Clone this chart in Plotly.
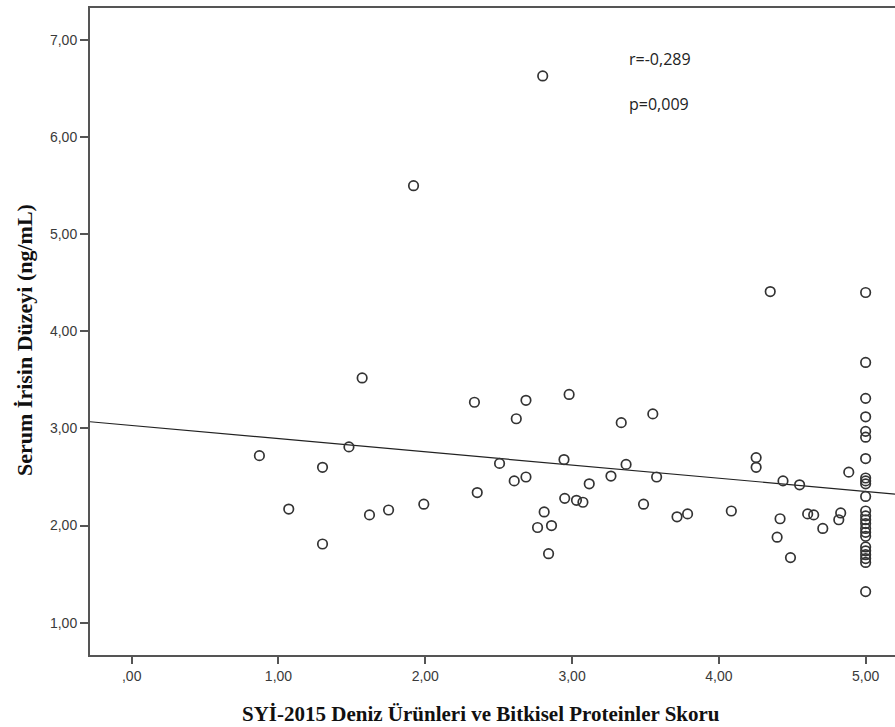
import numpy as np
import plotly.graph_objects as go

# Scatter data: SYİ-2015 score (x) vs serum irisin (y)
x_vals = [
    0.87, 1.07, 1.30, 1.30, 1.48, 1.57, 1.62, 1.75, 1.92, 1.99,
    2.335, 2.354, 2.506, 2.606, 2.62, 2.686, 2.686, 2.765, 2.80, 2.81,
    2.84, 2.86, 2.945, 2.95, 2.98, 3.03, 3.074, 3.117, 3.265, 3.335,
    3.368, 3.487, 3.55, 3.576, 3.715, 3.787, 4.085, 4.254, 4.254, 4.35,
    4.397, 4.417, 4.437, 4.488, 4.55, 4.605, 4.646, 4.708, 4.817, 4.83,
    4.885,
    5.0, 5.0, 5.0, 5.0, 5.0, 5.0, 5.0, 5.0, 5.0, 5.0, 5.0, 5.0,
    5.0, 5.0, 5.0, 5.0, 5.0, 5.0, 5.0, 5.0, 5.0, 5.0, 5.0, 5.0,
]
y_vals = [
    2.72, 2.17, 2.60, 1.81, 2.81, 3.52, 2.11, 2.16, 5.50, 2.22,
    3.27, 2.34, 2.64, 2.46, 3.10, 3.29, 2.50, 1.98, 6.63, 2.14,
    1.71, 2.00, 2.68, 2.28, 3.35, 2.26, 2.24, 2.43, 2.51, 3.06,
    2.63, 2.22, 3.15, 2.50, 2.09, 2.12, 2.15, 2.70, 2.60, 4.41,
    1.88, 2.07, 2.46, 1.67, 2.42, 2.12, 2.11, 1.97, 2.06, 2.13,
    2.55,
    4.40, 3.68, 3.31, 3.12, 2.97, 2.91, 2.69, 2.49, 2.46, 2.43, 2.30, 2.15,
    2.10, 2.06, 2.02, 1.97, 1.93, 1.89, 1.78, 1.74, 1.70, 1.66, 1.62, 1.32,
]

x_tick_vals = [0, 1, 2, 3, 4, 5]
x_tick_text = [",00", "1,00", "2,00", "3,00", "4,00", "5,00"]
y_tick_vals = [1, 2, 3, 4, 5, 6, 7]
y_tick_text = ["1,00", "2,00", "3,00", "4,00", "5,00", "6,00", "7,00"]

x_range = [-0.284, 5.2]
y_range = [0.667, 7.33]

stats_text = ["r=-0,289", "p=0,009"]

# Linear fit line
slope, intercept = np.polyfit(np.array(x_vals), np.array(y_vals), 1)
fit_x = np.array(x_range)
fit_y = intercept + slope * fit_x

fig = go.Figure()
fig.add_trace(go.Scatter(
    x=fit_x, y=fit_y, mode="lines",
    line=dict(color="#222222", width=1.2),
    hoverinfo="skip", showlegend=False,
))
fig.add_trace(go.Scatter(
    x=x_vals, y=y_vals, mode="markers",
    marker=dict(symbol="circle-open", size=9.5, color="#333333",
                line=dict(color="#333333", width=1.7)),
    showlegend=False,
))

tick_font = dict(family="Liberation Sans, Arial, sans-serif", size=14, color="#3a3a3a")
title_font_x = dict(family="Liberation Serif, Times New Roman, serif", size=21, color="#111111")
title_font_y = dict(family="Liberation Serif, Times New Roman, serif", size=22, color="#111111")
stat_font = dict(family="Open Sans, Liberation Sans, sans-serif", size=16, color="#222222")

fig.update_xaxes(
    range=x_range, tickvals=x_tick_vals, ticktext=x_tick_text,
    showline=True, linecolor="#555555", linewidth=2, mirror=True,
    ticks="outside", ticklen=7, tickwidth=2, tickcolor="#555555",
    showgrid=False, zeroline=False, tickfont=tick_font,
)
fig.update_yaxes(
    range=y_range, tickvals=y_tick_vals, ticktext=y_tick_text,
    showline=True, linecolor="#555555", linewidth=2, mirror=False,
    ticks="outside", ticklen=8, tickwidth=2, tickcolor="#555555",
    showgrid=False, zeroline=False, tickfont=tick_font,
)

annotations = [
    dict(x=3.376, y=6.805, xref="x", yref="y", text=stats_text[0], showarrow=False,
         xanchor="left", yanchor="middle", font=stat_font),
    dict(x=3.376, y=6.342, xref="x", yref="y", text=stats_text[1], showarrow=False,
         xanchor="left", yanchor="middle", font=stat_font),
    dict(x=481, y=714, xref="paper", yref="paper",
         text="<b>SYİ-2015 Deniz Ürünleri ve Bitkisel Proteinler Skoru</b>",
         showarrow=False, xanchor="center", yanchor="middle", font=title_font_x),
    dict(x=24, y=340, xref="paper", yref="paper",
         text="<b>Serum İrisin Düzeyi (ng/mL)</b>", textangle=-90,
         showarrow=False, xanchor="center", yanchor="middle", font=title_font_y),
]

# convert pixel positions for axis titles to paper coordinates
W, H = 895, 727
ml, mr, mt, mb = 90, 0, 8, 72
pw, ph = W - ml - mr, H - mt - mb
for a in annotations[2:]:
    a["x"] = (a["x"] - ml) / pw
    a["y"] = (H - mb - a["y"]) / ph

fig.update_layout(
    width=W, height=H,
    margin=dict(l=ml, r=mr, t=mt, b=mb, pad=0),
    plot_bgcolor="white", paper_bgcolor="white",
    annotations=annotations,
    showlegend=False,
)

fig.write_html("out.html")
